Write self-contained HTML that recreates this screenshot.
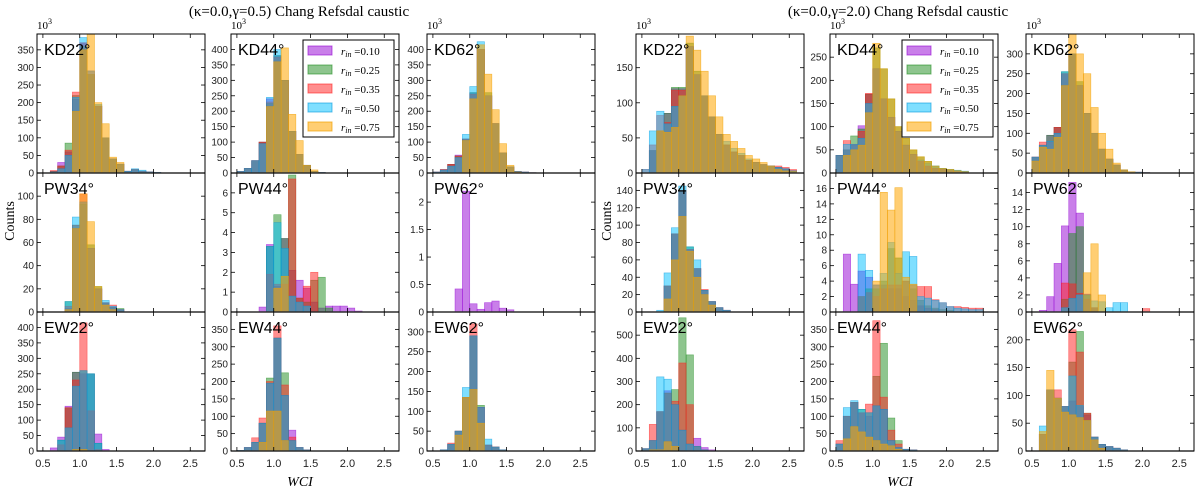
<!DOCTYPE html>
<html><head><meta charset="utf-8">
<style>
html,body{margin:0;padding:0;background:#fff;}
svg{display:block;font-family:"Liberation Sans",sans-serif;}
</style></head>
<body>
<svg id="chart" width="1200" height="492" xmlns="http://www.w3.org/2000/svg">
<text x="299" y="16" font-family="Liberation Serif,serif" font-size="15" text-anchor="middle">(κ=0.0,γ=0.5) Chang Refsdal caustic</text>
<text x="898" y="16" font-family="Liberation Serif,serif" font-size="15" text-anchor="middle">(κ=0.0,γ=2.0) Chang Refsdal caustic</text>
<text transform="translate(14,221) rotate(-90)" font-family="Liberation Serif,serif" font-size="14" text-anchor="middle">Counts</text>
<text transform="translate(611,221) rotate(-90)" font-family="Liberation Serif,serif" font-size="14" text-anchor="middle">Counts</text>
<text x="300" y="486" font-family="Liberation Serif,serif" font-style="italic" font-size="14" text-anchor="middle">WCI</text>
<text x="900" y="486" font-family="Liberation Serif,serif" font-style="italic" font-size="14" text-anchor="middle">WCI</text>
</svg>
<script>
// bins start at WCI 0.5, width 0.1; series order: r=0.10, 0.25, 0.35, 0.50, 0.75
const binStart = 0.5;
const binWidth = 0.1;
const seriesLabels = ["r_in=0.10","r_in=0.25","r_in=0.35","r_in=0.50","r_in=0.75"];
const xTicks = [0.5,1.0,1.5,2.0,2.5];
const panelNames = ["KD22°","KD44°","KD62°","PW34°","PW44°","PW62°","EW22°","EW44°","EW62°"];

const L_KD22 = [[0,5,30,60,210,370,290,190,100,40,25,5,10,5,3,2],[0,5,20,85,220,360,280,190,100,40,25,5,10,5,3,2],[0,7,20,65,230,370,280,190,100,40,25,5,10,5,3,2],[0,3,12,50,215,385,290,195,100,40,25,5,12,8,3,2],[0,0,0,0,175,350,395,200,140,45,30,0,0,0,0,0]];
const L_KD44 = [[5,15,40,100,240,380,300,135,60,25,5,2],[5,15,40,100,225,380,300,135,60,25,5,2],[5,15,40,100,230,375,300,135,60,25,5,2],[5,15,40,95,245,400,300,135,60,25,5,2],[0,0,0,0,215,360,405,190,105,25,10,0]];
const L_KD62 = [[3,10,28,58,110,260,400,250,160,65,20,5,3,1],[3,10,28,55,110,260,400,260,160,65,20,5,3,1],[3,12,28,55,110,255,400,250,160,65,20,5,3,1],[3,10,22,50,125,280,425,250,160,65,20,5,3,1],[0,0,0,0,105,240,415,320,205,95,25,3,0,0]];
const L_PW34 = [[0,0,0,3,72,95,55,20,8,4,2],[0,0,0,9,75,93,58,22,8,4,3],[0,0,0,5,75,102,55,20,8,6,2],[0,0,0,9,82,95,55,20,10,5,2],[0,0,0,2,72,102,78,22,6,2,0]];
const L_PW44 = [[0,0,0,0.25,3.4,1.3,3.7,2.1,1.6,1.2,0.5,0.2,0.3,0.3,0.3,0.2,0.05],[0,0,0,0,3.3,4.9,3.7,6.9,0.7,0.5,1.6,1.75,0.2,0,0,0,0],[0,0,0,0,1.9,1.4,1.4,6.7,0.7,1.3,2.0,0,0,0,0,0,0],[0,0,0,0,3.3,4.5,3.2,0.8,0.5,0.3,0,0,0,0,0,0,0],[0,0,0,0,0,1.2,1.8,0,0,0,0,0,0,0,0,0,0]];
const L_PW62 = [[0,0,0,0.42,2.2,0.15,0.05,0.17,0.2,0.07,0.04],[0,0,0,0,0,0,0,0,0,0,0],[0,0,0,0,0,0,0,0,0,0,0],[0,0,0,0,0,0,0,0,0,0,0],[0,0,0,0,0,0,0,0,0,0,0]];
const L_EW22 = [[0,10,45,145,255,250,250,55,5],[0,0,35,140,255,260,250,25,0],[0,0,20,140,230,415,130,5,0],[0,0,35,75,210,260,250,25,0],[0,0,0,0,5,5,0,0,0]];
const L_EW44 = [[2,10,25,80,195,325,160,60,10,3],[2,10,25,80,210,325,225,30,10,3],[2,10,38,95,200,360,190,40,10,3],[2,10,25,80,195,325,160,30,10,3],[0,0,0,25,115,115,30,0,0,0]];
const L_EW62 = [[0,3,17,50,135,290,110,15,10,3],[0,3,17,50,135,290,115,15,10,3],[0,3,20,50,135,320,110,15,10,3],[0,3,17,50,160,290,110,30,10,3],[0,0,0,40,135,155,70,0,0,0]];

const R_KD22 = [[0,32,60,85,120,120,180,140,110,80,55,40,30,25,18,15,12,10,8,6,3],[0,32,60,85,122,122,185,145,110,80,55,40,30,25,18,15,12,10,8,6,3],[5,40,82,72,118,118,180,140,110,80,55,40,30,25,18,15,12,10,10,8,5],[5,60,88,70,95,110,180,140,110,80,55,45,35,28,20,15,12,10,8,6,3],[0,0,60,58,65,110,195,175,145,110,80,55,45,35,25,20,15,10,5,3,2]];
const R_KD44 = [[38,50,60,102,170,225,160,120,90,60,40,25,15,10,8,5,3,2],[38,50,80,95,170,270,225,160,100,75,50,35,25,15,10,8,5,3],[38,70,62,90,172,225,160,120,90,60,40,25,15,10,8,5,3,2],[38,62,62,75,150,225,160,120,90,60,40,28,20,15,10,8,6,4],[0,38,50,60,130,280,225,160,100,75,50,35,25,15,10,8,5,3]];
const R_KD62 = [[40,70,95,115,250,300,220,150,100,60,35,20,8,3,2,1],[40,70,95,115,255,300,230,150,100,60,35,20,8,3,2,1],[40,78,78,115,250,300,220,150,100,60,35,20,8,3,2,1],[40,70,80,100,255,300,220,150,100,60,35,20,8,3,2,1],[30,65,60,90,220,350,300,250,165,100,60,25,8,3,0,0]];
const R_PW34 = [[0,0,0,30,90,140,72,50,25,12,5,2],[0,0,0,30,90,140,75,50,25,12,5,2],[0,0,0,30,90,140,72,50,26,12,5,2],[0,0,2,45,97,145,75,60,25,12,5,2],[0,0,0,15,60,110,70,40,20,8,0,0]];
const R_PW44 = [[0,7.5,3.6,5.3,4.5,3.5,3.5,3,3,2,1.5,0.8,0.5,0.3,0,0,0,0,0,0],[0,0,0,2,3,3,4,8.2,7,4,3,1.5,0.8,0.5,0.3,0.2,0,0,0,0],[0,0,0,2,2.5,2,3,3.5,3.5,4,3.5,3.3,3.3,1.6,1.2,0.7,0.7,0.6,0.5,0.5],[0,0,0,7.5,5.4,3.5,5,9,5,7.8,7.2,2,1.8,1.5,1.2,0.7,0.5,0.4,0.3,0.3],[0,0,0,0,0,4,15.5,13.2,16.1,4.5,3.6,0,0,0,0,0,0,0,0,0]];
const R_PW62 = [[0,0.2,1.8,5.7,10.1,15.2,11.6,2.1,0.5,0,0,0,0,0,0,0],[0,0,0,0,1.5,9.2,10,2,0.5,0,0,0,0,0,0,0],[0,0,0,0,3.4,3.3,2.2,1.5,0.5,0,0,0,0,0,0,0.4],[0,0,0,0,0.5,1.6,2,2,1.3,1.2,0.5,1.1,1.1,0,0,0],[0,0,0,0,0,0,0,4.6,8,2,0,0,0,0,0,0]];
const R_EW22 = [[10,45,170,260,200,90,30,55,15,5],[10,45,170,250,265,575,415,20,5,0],[10,115,170,250,215,380,200,20,5,0],[10,45,320,310,200,90,30,20,5,0],[0,5,5,40,20,0,0,0,0,0]];
const R_EW44 = [[20,100,140,110,100,130,120,30,10,5,3],[20,100,140,120,110,215,310,95,30,5,3],[30,100,140,110,135,375,155,60,20,5,3],[20,125,145,120,110,130,120,30,10,5,3],[0,35,70,55,40,30,20,15,5,0,0]];
const R_EW62 = [[0,30,110,95,80,90,80,65,25,12,8,5,2],[0,30,110,95,80,160,215,68,25,12,8,5,2],[0,30,110,110,80,218,178,68,25,12,8,5,2],[0,45,110,95,80,135,82,55,25,12,8,5,2],[0,35,145,95,70,65,60,55,20,5,0,0,0]];

const L_YMAX = [395,450,450,120,7,2.53,450,400,350];
const R_YMAX = [198,300,350,160,18,16.3,600,400,250];
const L_YTICKS = [[0,50,100,150,200,250,300,350],[0,50,100,150,200,250,300,350,400],[0,50,100,150,200,250,300,350,400],[0,20,40,60,80,100],[0,1,2,3,4,5,6],[0,0.5,1,1.5,2],[0,50,100,150,200,250,300,350,400],[0,50,100,150,200,250,300,350],[0,50,100,150,200,250,300]];
const R_YTICKS = [[0,50,100,150],[0,50,100,150,200,250],[0,50,100,150,200,250,300],[0,20,40,60,80,100,120,140],[0,2,4,6,8,10,12,14,16],[0,2,4,6,8,10,12,14],[0,100,200,300,400,500],[0,50,100,150,200,250,300,350],[0,50,100,150,200]];
const LEFT_DATA = [L_KD22,L_KD44,L_KD62,L_PW34,L_PW44,L_PW62,L_EW22,L_EW44,L_EW62];
const RIGHT_DATA = [R_KD22,R_KD44,R_KD62,R_PW34,R_PW44,R_PW62,R_EW22,R_EW44,R_EW62];

const COLORS = ["rgba(148,0,211,0.5)","rgba(30,140,30,0.5)","rgba(255,30,30,0.5)","rgba(0,191,255,0.5)","rgba(255,165,0,0.55)"];
const STROKES = ["rgba(148,0,211,0.6)","rgba(30,140,30,0.6)","rgba(255,30,30,0.6)","rgba(0,150,220,0.6)","rgba(240,160,0,0.7)"];
const NS = "http://www.w3.org/2000/svg";
const svg = document.getElementById("chart");
const XMIN = 0.42, XMAX = 2.7;
const COLX = [[37,231,427],[636,830,1026]];
const PW = 168;
const ROWY = [34,173,312];
const PH = 139;

function mk(tag, attrs, parent){
  const e = document.createElementNS(NS, tag);
  for (const k in attrs) e.setAttribute(k, attrs[k]);
  (parent||svg).appendChild(e);
  return e;
}
function fmt(v){ return (Math.round(v*10)/10).toString(); }

function drawPanel(g, pi, data, ymax, yticks, name, side){
  const col = pi % 3, row = Math.floor(pi/3);
  const x0 = COLX[g][col], y0 = ROWY[row];
  const sx = v => x0 + (v - XMIN)/(XMAX - XMIN)*PW;
  const sy = v => y0 + PH - v/ymax*PH;
  const grp = mk("g", {});
  
  
  const clipId = "clip" + g + "_" + pi;
  const cp = mk("clipPath", {id: clipId}, grp);
  mk("rect", {x:x0, y:y0, width:PW, height:PH}, cp);
  const bars = mk("g", {"clip-path": "url(#" + clipId + ")"}, grp);
  data.forEach((series, si) => {
    series.forEach((v, bi) => {
      if (v <= 0) return;
      const a = binStart + bi*binWidth;
      const b = a + binWidth;
      const r = mk("rect", {x: sx(a), y: sy(v), width: sx(b)-sx(a), height: sy(0)-sy(v), fill: COLORS[si], stroke: STROKES[si], "stroke-width": 0.6}, bars);
      
      
    });
  });
  // zero line
  const zl = mk("line", {x1:x0, x2:x0+PW, y1:sy(0), y2:sy(0), stroke:"#888", "stroke-width":1.5}, grp);
  
  
  const frame = mk("rect", {x:x0, y:y0, width:PW, height:PH, fill:"none", stroke:"#000", "stroke-width":1}, grp);
  
  
  xTicks.forEach(t => {
    const X = sx(t);
    mk("line", {x1:X, x2:X, y1:y0+PH, y2:y0+PH-4, stroke:"#000", "stroke-width":0.8}, grp);
    mk("line", {x1:X, x2:X, y1:y0, y2:y0+4, stroke:"#000", "stroke-width":0.8}, grp);
    if (row === 2) {
      const tl = mk("text", {x:X, y:y0+PH+16, "font-size":11, "text-anchor":"middle", fill:"#222"}, grp);
      tl.textContent = t.toFixed(1);
      
      
    }
  });
  yticks.forEach(t => {
    const Y = sy(t);
    mk("line", {x1:x0, x2:x0+4, y1:Y, y2:Y, stroke:"#000", "stroke-width":0.8}, grp);
    mk("line", {x1:x0+PW, x2:x0+PW-4, y1:Y, y2:Y, stroke:"#000", "stroke-width":0.8}, grp);
    const tl = mk("text", {x:x0-3, y:Y+3.5, "font-size":10, "text-anchor":"end", fill:"#222"}, grp);
    tl.textContent = fmt(t);
    
    
  });
  const lbl = mk("text", {x:x0+7, y:y0+21, "font-size":16, fill:"#000"}, grp);
  lbl.textContent = name;
  
  
  if (row === 0) {
    const ex = mk("text", {x:x0, y:y0-5, "font-size":11, "font-family":"Liberation Serif,serif"}, grp);
    ex.innerHTML = '10<tspan dy="-5" font-size="8">3</tspan>';
    
    
  }
}

function drawLegend(lx, side){
  const lg = mk("g", {});
  
  
  mk("rect", {x:lx, y:40, width:91, height:97, fill:"#fff", stroke:"#000", "stroke-width":1}, lg);
  seriesLabels.forEach((s, i) => {
    const y = 46 + i*19;
    const p = mk("rect", {x:lx+5, y:y, width:24, height:9, fill:COLORS[i], stroke:STROKES[i]}, lg);
    
    
    const t = mk("text", {x:lx+38, y:y+9, "font-size":11, "font-family":"Liberation Serif,serif"}, lg);
    const val = s.split("=")[1];
    t.innerHTML = '<tspan font-style="italic">r</tspan><tspan font-style="italic" font-size="8" dy="2">in</tspan><tspan dy="-2"> =' + val + '</tspan>';
    
    
  });
}

for (let i = 0; i < 9; i++) {
  drawPanel(0, i, LEFT_DATA[i], L_YMAX[i], L_YTICKS[i], panelNames[i], "left");
  drawPanel(1, i, RIGHT_DATA[i], R_YMAX[i], R_YTICKS[i], panelNames[i].replace("PW34","PW34"), "right");
}
drawLegend(303, "left");
drawLegend(902, "right");
</script>
</body></html>
